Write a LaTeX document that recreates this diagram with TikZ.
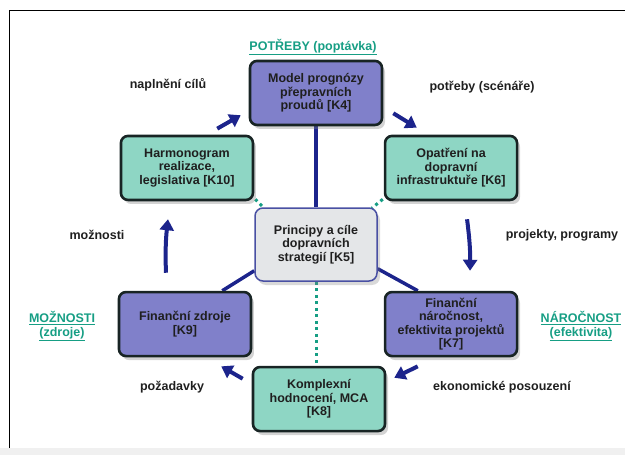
\documentclass[tikz,border=0pt]{standalone}
\usepackage{fontspec}
\setmainfont{Liberation Sans}
\usepackage{xcolor}
\usepackage{tikz}
\usetikzlibrary{arrows.meta,positioning,shadows,backgrounds}

\definecolor{kblue}{RGB}{128,128,202}
\definecolor{kteal}{RGB}{142,214,196}
\definecolor{kgray}{RGB}{228,230,232}
\definecolor{knavy}{RGB}{28,36,140}
\definecolor{kedge}{RGB}{24,36,36}
\definecolor{kgreen}{RGB}{22,158,132}

\begin{document}
\begin{tikzpicture}[
    x=1pt, y=-1pt,
    every node/.style={font=\fontsize{12.5}{13.5}\selectfont\bfseries, text=black!88},
    kbox/.style={rounded corners=7pt, draw=kedge, line width=2.6pt, align=center, minimum width=132pt, minimum height=64pt, inner sep=2pt, drop shadow={shadow xshift=3pt, shadow yshift=-4pt, opacity=0.35}},
    bluebox/.style={kbox, fill=kblue},
    tealbox/.style={kbox, fill=kteal},
    corebox/.style={rounded corners=8pt, draw=knavy!80, line width=1.5pt, fill=kgray, align=center, minimum width=122pt, minimum height=73pt, inner sep=2pt, drop shadow={shadow xshift=3pt, shadow yshift=-4pt, opacity=0.3}},
    flow/.style={-{Triangle[length=11pt,width=14pt]}, line width=4pt, draw=knavy},
    link/.style={line width=3.5pt, draw=knavy},
    dotlink/.style={line width=3pt, draw=kgreen, dash pattern=on 3pt off 3.5pt},
    tag/.style={align=center},
    heading/.style={align=center, text=kgreen}
]
\useasboundingbox (0,0) rectangle (625,455);

% boxes
\node[corebox] (k5) at (316,244.5) {Principy a cíle\\dopravních\\strategií [K5]};
\node[bluebox, above=81pt of k5] (k4) {Model prognózy\\přepravních\\proudů [K4]};
\node[tealbox, above left=6pt and 0pt of k5] (k10) {Harmonogram\\realizace,\\legislativa [K10]};
\node[tealbox, above right=6pt and 6pt of k5] (k6) {Opatření na\\dopravní\\infrastruktuře [K6]};
\node[bluebox, below left=9pt and 2pt of k5] (k9) {Finanční zdroje\\{[K9]}};
\node[bluebox, below right=9pt and 6pt of k5] (k7) {Finanční\\náročnost,\\efektivita projektů\\{[K7]}};
\node[tealbox, below=84pt of k5, xshift=3pt] (k8) {Komplexní\\hodnocení, MCA\\{[K8]}};

% labels
\node[heading] (hneeds) at (313,47) {\underline{POTŘEBY (poptávka)}};
\node[tag] (tgoals) at (168,85) {naplnění cílů};
\node[tag] (tneeds) at (482,87) {potřeby (scénáře)};
\node[tag] (tposs) at (97,235) {možnosti};
\node[tag] (tproj) at (562,235) {projekty, programy};
\node[heading] (hposs) at (62,326) {\underline{MOŽNOSTI}\\\underline{(zdroje)}};
\node[heading] (hcost) at (581,326) {\underline{NÁROČNOST}\\\underline{(efektivita)}};
\node[tag] (treq) at (172,387) {požadavky};
\node[tag] (tecon) at (502,387) {ekonomické posouzení};

% cycle
\draw[flow] ([xshift=-37pt,yshift=6pt]k10.north east) -- ([xshift=-8pt,yshift=11pt]k4.south west);
\draw[flow] ([xshift=10pt,yshift=13pt]k4.south east) -- ([xshift=33pt,yshift=7pt]k6.north west);
\draw[flow] ([xshift=16pt,yshift=-18pt]k6.south) to[bend left=4] ([xshift=19pt,yshift=20pt]k7.north);
\draw[flow] ([xshift=34pt,yshift=-9pt]k7.south west) -- ([xshift=8pt,yshift=-12pt]k8.north east);
\draw[flow] ([xshift=-9pt,yshift=-13pt]k8.north west) -- ([xshift=-31pt,yshift=-9pt]k9.south east);
\draw[flow] ([xshift=-19pt,yshift=18pt]k9.north) to[bend left=4] ([xshift=-19pt,yshift=-18pt]k10.south);

\begin{scope}[on background layer]
\fill[black!6] (0,448) rectangle (625,455);
\draw[line width=1pt] (9,448) -- (9,10) -- (625,10);
\draw[link] (k4.south) -- (k5.north);
\draw[link] ([yshift=11pt]k5.south west) -- ([xshift=-30pt]k9.north east);
\draw[link] ([yshift=13pt]k5.south east) -- ([xshift=34pt]k7.north west);
\draw[dotlink] ([xshift=1pt,yshift=2pt]k10.south east) -- ([xshift=10pt,yshift=-1pt]k5.north west);
\draw[dotlink] ([xshift=-1pt,yshift=2pt]k6.south west) -- ([xshift=-6pt,yshift=-1pt]k5.north east);
\draw[dotlink] (k5.south) -- (k5.south |- k8.north);
\end{scope}
\end{tikzpicture}
\end{document}
